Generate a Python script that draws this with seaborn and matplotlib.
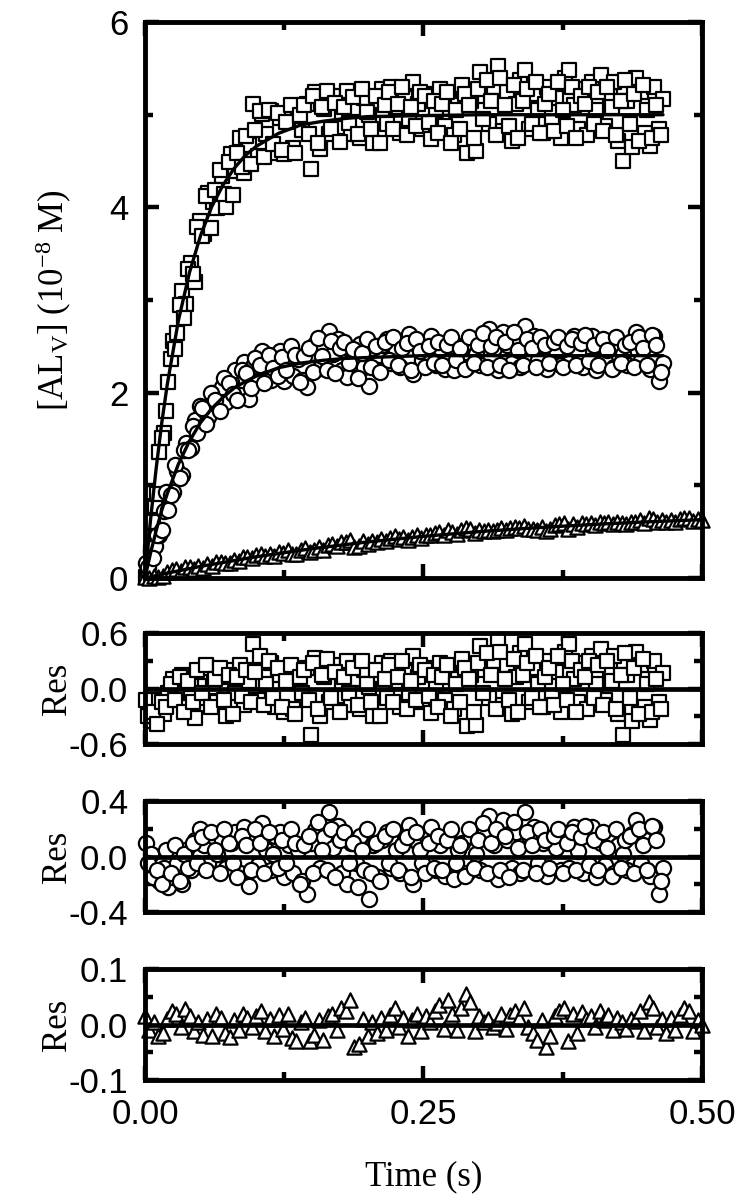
import matplotlib
matplotlib.use("Agg")
import matplotlib.pyplot as plt
import seaborn as sns
from matplotlib.ticker import FixedLocator, FormatStrFormatter

# ---------------- data ----------------
# sampling set A
t_fast = [0.001, 0.005, 0.009, 0.013, 0.017, 0.021, 0.025, 0.029, 0.033, 0.037,
          0.041, 0.045, 0.049, 0.053, 0.057, 0.061, 0.065, 0.069, 0.073, 0.077,
          0.081, 0.085, 0.089, 0.093, 0.097, 0.101, 0.105, 0.109, 0.113, 0.117,
          0.121, 0.125, 0.129, 0.133, 0.137, 0.141, 0.145, 0.149, 0.153, 0.157,
          0.161, 0.165, 0.169, 0.173, 0.177, 0.181, 0.185, 0.189, 0.193, 0.197,
          0.201, 0.205, 0.209, 0.213, 0.217, 0.221, 0.225, 0.229, 0.233, 0.237,
          0.241, 0.245, 0.249, 0.253, 0.257, 0.261, 0.265, 0.269, 0.273, 0.277,
          0.281, 0.285, 0.289, 0.293, 0.297, 0.301, 0.305, 0.309, 0.313, 0.317,
          0.321, 0.325, 0.329, 0.333, 0.337, 0.341, 0.345, 0.349, 0.353, 0.357,
          0.361, 0.365, 0.369, 0.373, 0.377, 0.381, 0.385, 0.389, 0.393, 0.397,
          0.401, 0.405, 0.409, 0.413, 0.417, 0.421, 0.425, 0.429, 0.433, 0.437,
          0.441, 0.445, 0.449, 0.453, 0.457, 0.461, 0.465]

sq_val = [0.01, 0.28, 0.78, 1.36, 1.56, 2.12, 2.56, 2.64, 3.10, 2.96, 3.40, 3.20,
          3.85, 3.71, 4.15, 4.06, 3.99, 4.34, 4.00, 4.58, 4.39, 4.75, 4.37, 4.67,
          5.12, 4.55, 5.01, 4.79, 5.04, 4.59, 4.96, 4.58, 4.95, 4.64, 5.06, 4.84,
          5.12, 4.41, 5.25, 4.63, 5.06, 4.79, 5.20, 4.87, 5.01, 5.26, 4.79, 5.07,
          4.75, 5.18, 5.00, 4.70, 5.15, 5.28, 4.90, 5.30, 5.08, 4.80, 5.18, 4.95,
          5.35, 5.12, 4.85, 5.22, 4.74, 5.05, 5.28, 4.88, 5.18, 4.78, 5.10, 5.32,
          4.59, 5.15, 4.61, 5.46, 5.20, 4.90, 5.30, 5.53, 4.82, 5.25, 4.72, 5.12,
          5.38, 5.48, 4.85, 5.22, 5.05, 4.80, 5.30, 4.92, 5.18, 4.75, 5.40, 5.48,
          5.10, 4.85, 5.28, 4.78, 5.35, 5.05, 5.43, 4.88, 5.20, 5.35, 4.72, 4.50,
          5.15, 4.65, 5.40, 5.25, 4.80, 4.66, 5.30, 4.85, 5.17]

sq_res = [-0.12, -0.35, -0.30, -0.12, -0.28, -0.05, 0.10, -0.08, 0.15, -0.20, 0.05, -0.32,
          0.18, -0.10, 0.22, 0.02, -0.15, 0.12, -0.30, 0.20, -0.05, 0.25, -0.18, 0.08,
          0.48, -0.12, 0.30, 0.05, 0.28, -0.20, 0.15, -0.25, 0.10, -0.22, 0.18, -0.05,
          0.22, -0.50, 0.33, -0.30, 0.12, -0.15, 0.25, -0.08, 0.05, 0.30, -0.18, 0.10,
          -0.22, 0.20, 0.02, -0.30, 0.15, 0.28, -0.10, 0.30, 0.08, -0.20, 0.18, -0.05,
          0.35, 0.12, -0.15, 0.22, -0.26, 0.05, 0.28, -0.12, 0.18, -0.22, 0.10, 0.32,
          -0.41, 0.15, -0.39, 0.46, 0.20, -0.10, 0.30, 0.53, -0.18, 0.25, -0.28, 0.12,
          0.38, 0.48, -0.15, 0.22, 0.05, -0.20, 0.30, -0.08, 0.18, -0.25, 0.40, 0.48,
          0.10, -0.15, 0.28, -0.22, 0.35, 0.05, 0.43, -0.12, 0.20, 0.35, -0.28, -0.50,
          0.15, -0.35, 0.40, 0.25, -0.20, -0.34, 0.30, -0.15, 0.17]

ci_val = [0.16, 0.29, 0.35, 0.46, 0.72, 0.73, 0.93, 1.15, 1.11, 1.46, 1.40, 1.71,
          1.86, 1.81, 1.74, 2.00, 1.92, 2.06, 1.90, 2.12, 2.24, 1.97, 2.33, 1.93,
          2.29, 2.13, 2.45, 2.28, 2.14, 2.41, 2.45, 2.13, 2.37, 2.18, 2.36, 2.14,
          2.06, 2.43, 2.53, 2.27, 2.49, 2.67, 2.42, 2.58, 2.25, 2.17, 2.47, 2.32,
          2.53, 2.28, 2.07, 2.48, 2.25, 2.52, 2.58, 2.32, 2.45, 2.28, 2.55, 2.63,
          2.20, 2.50, 2.35, 2.54, 2.61, 2.30, 2.48, 2.26, 2.52, 2.24, 2.45, 2.50,
          2.28, 2.55, 2.42, 2.30, 2.58, 2.69, 2.48, 2.24, 2.66, 2.52, 2.32, 2.58,
          2.28, 2.72, 2.55, 2.61, 2.35, 2.50, 2.26, 2.52, 2.46, 2.30, 2.55, 2.32,
          2.61, 2.44, 2.28, 2.58, 2.61, 2.25, 2.50, 2.34, 2.54, 2.28, 2.48, 2.42,
          2.30, 2.56, 2.66, 2.35, 2.52, 2.26, 2.61, 2.13, 2.32]

ci_res = [0.10, 0.02, -0.12, -0.18, -0.08, -0.22, -0.15, -0.05, -0.20, 0.05, -0.10, 0.12,
          0.20, 0.08, -0.05, 0.15, 0.02, 0.12, -0.08, 0.10, 0.18, -0.12, 0.21, -0.21,
          0.12, -0.06, 0.24, 0.05, -0.10, 0.15, 0.18, -0.15, 0.08, -0.12, 0.05, -0.18,
          -0.27, 0.10, 0.19, -0.08, 0.14, 0.32, 0.06, 0.22, -0.12, -0.20, 0.10, -0.05,
          0.15, -0.10, -0.31, 0.08, -0.15, 0.12, 0.18, -0.08, 0.05, -0.12, 0.15, 0.23,
          -0.20, 0.10, -0.05, 0.14, 0.21, -0.10, 0.08, -0.14, 0.12, -0.16, 0.05, 0.10,
          -0.12, 0.15, 0.02, -0.10, 0.18, 0.29, 0.08, -0.16, 0.26, 0.12, -0.08, 0.18,
          -0.12, 0.32, 0.15, 0.21, -0.05, 0.10, -0.14, 0.12, 0.06, -0.10, 0.15, -0.08,
          0.21, 0.04, -0.12, 0.18, 0.21, -0.15, 0.10, -0.06, 0.14, -0.12, 0.08, 0.02,
          -0.10, 0.16, 0.26, -0.05, 0.12, -0.14, 0.21, -0.27, -0.08]

# sampling set B (interleaved with set A)
t_fast_b = [0.003, 0.007, 0.011, 0.015, 0.019, 0.023, 0.027, 0.031, 0.035, 0.039,
            0.043, 0.047, 0.051, 0.055, 0.059, 0.063, 0.067, 0.071, 0.075, 0.079,
            0.083, 0.087, 0.091, 0.095, 0.099, 0.103, 0.107, 0.111, 0.115, 0.119,
            0.123, 0.127, 0.131, 0.135, 0.139, 0.143, 0.147, 0.151, 0.155, 0.159,
            0.163, 0.167, 0.171, 0.175, 0.179, 0.183, 0.187, 0.191, 0.195, 0.199,
            0.203, 0.207, 0.211, 0.215, 0.219, 0.223, 0.227, 0.231, 0.235, 0.239,
            0.243, 0.247, 0.251, 0.255, 0.259, 0.263, 0.267, 0.271, 0.275, 0.279,
            0.283, 0.287, 0.291, 0.295, 0.299, 0.303, 0.307, 0.311, 0.315, 0.319,
            0.323, 0.327, 0.331, 0.335, 0.339, 0.343, 0.347, 0.351, 0.355, 0.359,
            0.363, 0.367, 0.371, 0.375, 0.379, 0.383, 0.387, 0.391, 0.395, 0.399,
            0.403, 0.407, 0.411, 0.415, 0.419, 0.423, 0.427, 0.431, 0.435, 0.439,
            0.443, 0.447, 0.451, 0.455, 0.459, 0.463]

sq_val_b = [0.09, 0.61, 0.91, 1.51, 1.80, 2.36, 2.47, 2.95, 2.81, 3.33, 3.28, 3.79,
            3.69, 4.12, 3.78, 4.19, 4.40, 4.14, 4.49, 4.13, 4.59, 4.44, 4.77, 4.47,
            4.84, 5.04, 4.54, 5.05, 4.68, 5.02, 4.62, 4.92, 5.11, 4.59, 5.00, 5.10,
            4.79, 5.20, 4.70, 5.08, 5.26, 4.85, 5.13, 4.71, 5.08, 4.91, 5.19, 4.79,
            5.28, 5.03, 4.85, 5.20, 4.70, 5.10, 5.25, 4.85, 5.12, 5.30, 4.78, 5.08,
            4.88, 5.25, 5.20, 4.92, 5.15, 4.80, 5.12, 5.25, 4.70, 5.05, 4.85, 5.22,
            5.10, 4.75, 5.28, 4.95, 5.38, 5.15, 4.78, 5.40, 5.10, 4.88, 5.32, 4.75,
            5.15, 5.28, 4.90, 5.35, 4.80, 5.12, 5.22, 4.82, 5.35, 5.05, 4.88, 5.30,
            4.75, 5.20, 5.12, 5.30, 4.90, 5.25, 4.82, 5.30, 5.08, 4.78, 5.15, 5.38,
            4.90, 5.22, 4.72, 5.32, 5.05, 4.75, 5.10, 4.78]

sq_res_b = [-0.30, -0.25, -0.38, -0.15, -0.20, 0.05, -0.12, 0.12, -0.25, 0.08, -0.15, 0.20,
            -0.05, 0.25, -0.20, 0.10, 0.22, -0.12, 0.15, -0.28, 0.12, -0.08, 0.20, -0.15,
            0.18, 0.35, -0.18, 0.30, -0.10, 0.22, -0.20, 0.08, 0.25, -0.28, 0.12, 0.20,
            -0.12, 0.28, -0.22, 0.15, 0.32, -0.10, 0.18, -0.25, 0.12, -0.05, 0.22, -0.18,
            0.30, 0.05, -0.15, 0.20, -0.30, 0.10, 0.25, -0.15, 0.12, 0.30, -0.22, 0.08,
            -0.12, 0.25, 0.20, -0.08, 0.15, -0.20, 0.12, 0.25, -0.30, 0.05, -0.15, 0.22,
            0.10, -0.25, 0.28, -0.05, 0.38, 0.15, -0.22, 0.40, 0.10, -0.12, 0.32, -0.25,
            0.15, 0.28, -0.10, 0.35, -0.20, 0.12, 0.22, -0.18, 0.35, 0.05, -0.12, 0.30,
            -0.25, 0.20, 0.12, 0.30, -0.10, 0.25, -0.18, 0.30, 0.08, -0.22, 0.15, 0.38,
            -0.10, 0.22, -0.28, 0.32, 0.05, -0.25, 0.10, -0.22]

ci_val_b = [0.12, 0.22, 0.46, 0.52, 0.93, 0.90, 1.22, 1.08, 1.38, 1.38, 1.64, 1.57,
            1.83, 1.66, 2.00, 1.92, 1.80, 2.16, 2.10, 1.99, 1.92, 2.25, 2.21, 2.05,
            2.38, 2.30, 2.10, 2.41, 2.27, 2.18, 2.39, 2.24, 2.50, 2.41, 2.12, 2.40,
            2.48, 2.22, 2.59, 2.40, 2.25, 2.56, 2.21, 2.48, 2.55, 2.32, 2.47, 2.16,
            2.43, 2.58, 2.28, 2.50, 2.22, 2.55, 2.35, 2.60, 2.30, 2.48, 2.54, 2.25,
            2.58, 2.45, 2.28, 2.50, 2.32, 2.55, 2.30, 2.52, 2.60, 2.35, 2.48, 2.26,
            2.60, 2.32, 2.52, 2.64, 2.28, 2.50, 2.60, 2.30, 2.55, 2.25, 2.65, 2.46,
            2.30, 2.58, 2.48, 2.28, 2.60, 2.52, 2.32, 2.55, 2.60, 2.28, 2.50, 2.58,
            2.30, 2.54, 2.62, 2.34, 2.52, 2.30, 2.58, 2.46, 2.26, 2.60, 2.32, 2.52,
            2.55, 2.28, 2.60, 2.48, 2.30, 2.62, 2.52, 2.22]

ci_res_b = [-0.05, -0.15, -0.10, -0.20, 0.05, -0.12, 0.08, -0.18, 0.02, -0.08, 0.10, -0.05,
            0.14, -0.10, 0.18, 0.05, -0.12, 0.20, 0.10, -0.05, -0.15, 0.15, 0.08, -0.10,
            0.20, 0.10, -0.12, 0.18, 0.02, -0.08, 0.12, -0.05, 0.20, 0.10, -0.20, 0.08,
            0.15, -0.12, 0.25, 0.05, -0.10, 0.20, -0.15, 0.12, 0.18, -0.05, 0.10, -0.22,
            0.05, 0.20, -0.12, 0.10, -0.18, 0.15, -0.05, 0.20, -0.10, 0.08, 0.14, -0.15,
            0.18, 0.05, -0.12, 0.10, -0.08, 0.15, -0.10, 0.12, 0.20, -0.05, 0.08, -0.14,
            0.20, -0.08, 0.12, 0.24, -0.12, 0.10, 0.20, -0.10, 0.15, -0.15, 0.25, 0.06,
            -0.10, 0.18, 0.08, -0.12, 0.20, 0.12, -0.08, 0.15, 0.20, -0.12, 0.10, 0.18,
            -0.10, 0.14, 0.22, -0.06, 0.12, -0.10, 0.18, 0.06, -0.14, 0.20, -0.08, 0.12,
            0.15, -0.12, 0.20, 0.08, -0.10, 0.22, 0.12, -0.18]

t_slow = [0.000, 0.004, 0.008, 0.012, 0.016, 0.020, 0.024, 0.028, 0.032, 0.036,
          0.040, 0.044, 0.048, 0.052, 0.056, 0.060, 0.064, 0.068, 0.072, 0.076,
          0.080, 0.084, 0.088, 0.092, 0.096, 0.100, 0.104, 0.108, 0.112, 0.116,
          0.120, 0.124, 0.128, 0.132, 0.136, 0.140, 0.144, 0.148, 0.152, 0.156,
          0.160, 0.164, 0.168, 0.172, 0.176, 0.180, 0.184, 0.188, 0.192, 0.196,
          0.200, 0.204, 0.208, 0.212, 0.216, 0.220, 0.224, 0.228, 0.232, 0.236,
          0.240, 0.244, 0.248, 0.252, 0.256, 0.260, 0.264, 0.268, 0.272, 0.276,
          0.280, 0.284, 0.288, 0.292, 0.296, 0.300, 0.304, 0.308, 0.312, 0.316,
          0.320, 0.324, 0.328, 0.332, 0.336, 0.340, 0.344, 0.348, 0.352, 0.356,
          0.360, 0.364, 0.368, 0.372, 0.376, 0.380, 0.384, 0.388, 0.392, 0.396,
          0.400, 0.404, 0.408, 0.412, 0.416, 0.420, 0.424, 0.428, 0.432, 0.436,
          0.440, 0.444, 0.448, 0.452, 0.456, 0.460, 0.464, 0.468, 0.472, 0.476,
          0.480, 0.484, 0.488, 0.492, 0.496, 0.500]

tri_val = [0.015, 0.001, 0.026, 0.012, 0.027, 0.063, 0.088, 0.093, 0.078, 0.121,
           0.117, 0.100, 0.126, 0.112, 0.149, 0.128, 0.177, 0.177, 0.159, 0.160,
           0.199, 0.189, 0.227, 0.226, 0.217, 0.245, 0.263, 0.233, 0.262, 0.240,
           0.285, 0.266, 0.301, 0.263, 0.264, 0.306, 0.320, 0.284, 0.302, 0.335,
           0.305, 0.354, 0.365, 0.341, 0.387, 0.388, 0.413, 0.334, 0.344, 0.395,
           0.370, 0.400, 0.385, 0.417, 0.400, 0.434, 0.450, 0.420, 0.442, 0.414,
           0.447, 0.463, 0.436, 0.467, 0.462, 0.486, 0.500, 0.461, 0.518, 0.498,
           0.472, 0.515, 0.544, 0.533, 0.485, 0.516, 0.509, 0.518, 0.506, 0.517,
           0.538, 0.514, 0.543, 0.553, 0.543, 0.565, 0.533, 0.526, 0.516, 0.555,
           0.510, 0.533, 0.570, 0.583, 0.591, 0.534, 0.587, 0.554, 0.594, 0.585,
           0.592, 0.575, 0.607, 0.592, 0.605, 0.579, 0.604, 0.599, 0.588, 0.608,
           0.607, 0.628, 0.593, 0.647, 0.639, 0.606, 0.623, 0.600, 0.629, 0.609,
           0.639, 0.653, 0.650, 0.615, 0.636, 0.630]

tri_res = [0.015, -0.010, 0.005, -0.020, -0.015, 0.010, 0.025, 0.020, -0.005, 0.028,
           0.015, -0.012, 0.005, -0.018, 0.010, -0.020, 0.020, 0.012, -0.015, -0.022,
           0.008, -0.010, 0.020, 0.012, -0.005, 0.015, 0.025, -0.012, 0.010, -0.020,
           0.018, -0.008, 0.020, -0.025, -0.030, 0.005, 0.012, -0.030, -0.018, 0.008,
           -0.028, 0.015, 0.020, -0.010, 0.030, 0.025, 0.045, -0.040, -0.035, 0.010,
           -0.020, 0.005, -0.015, 0.012, -0.010, 0.018, 0.030, -0.005, 0.012, -0.020,
           0.008, 0.020, -0.012, 0.015, 0.005, 0.025, 0.035, -0.008, 0.045, 0.020,
           -0.010, 0.030, 0.055, 0.040, -0.012, 0.015, 0.005, 0.010, -0.005, 0.002,
           0.020, -0.008, 0.018, 0.025, 0.012, 0.030, -0.005, -0.015, -0.028, 0.008,
           -0.040, -0.020, 0.015, 0.025, 0.030, -0.030, 0.020, -0.015, 0.022, 0.010,
           0.015, -0.005, 0.025, 0.008, 0.018, -0.010, 0.012, 0.005, -0.008, 0.010,
           0.006, 0.025, -0.012, 0.040, 0.030, -0.005, 0.010, -0.015, 0.012, -0.010,
           0.018, 0.030, 0.025, -0.012, 0.008, 0.000]

# fitted curves
fit_t = [0.0, 0.005, 0.01, 0.015, 0.02, 0.03, 0.04, 0.05, 0.06, 0.07, 0.08, 0.09,
         0.10, 0.12, 0.14, 0.16, 0.18, 0.20, 0.25, 0.30, 0.35, 0.40, 0.465]
sq_fit = [0.0, 0.63, 1.18, 1.67, 2.09, 2.78, 3.30, 3.70, 4.01, 4.24, 4.42, 4.56,
          4.66, 4.80, 4.89, 4.93, 4.96, 4.98, 4.99, 5.00, 5.00, 5.00, 5.00]
ci_fit = [0.0, 0.27, 0.51, 0.73, 0.91, 1.23, 1.48, 1.68, 1.83, 1.95, 2.05, 2.12,
          2.18, 2.27, 2.32, 2.35, 2.37, 2.38, 2.40, 2.40, 2.40, 2.40, 2.40]
tri_fit_t = [0.0, 0.02, 0.05, 0.10, 0.15, 0.20, 0.25, 0.30, 0.35, 0.40, 0.45, 0.50]
tri_fit = [0.0, 0.053, 0.126, 0.230, 0.317, 0.390, 0.450, 0.501, 0.542, 0.577, 0.606, 0.630]

assert len(t_fast) == len(sq_val) == len(sq_res) == len(ci_val) == len(ci_res)
assert len(t_fast_b) == len(sq_val_b) == len(sq_res_b) == len(ci_val_b) == len(ci_res_b)
assert len(t_slow) == len(tri_val) == len(tri_res)

main_yticks = [0, 2, 4, 6]
res_limits = [0.6, 0.4, 0.1]
x_ticks = [0.0, 0.25, 0.5]

# ---------------- style ----------------
sns.set_theme(style="ticks")
plt.rcParams["font.family"] = ["Liberation Sans", "DejaVu Sans"]
plt.rcParams["axes.unicode_minus"] = False
plt.rcParams["mathtext.default"] = "regular"

SERIF = ["Liberation Serif", "DejaVu Serif"]
TICKSIZE = 25
LABELSIZE = 25

fig = plt.figure(figsize=(7.42, 11.99), dpi=100)
L, W = 0.1954, 0.7507
ax0 = fig.add_axes([L, 0.5179, W, 0.4637])
ax1 = fig.add_axes([L, 0.3795, W, 0.0925])
ax2 = fig.add_axes([L, 0.2394, W, 0.0925])
ax3 = fig.add_axes([L, 0.0992, W, 0.0925])


def style(ax):
    for s in ax.spines.values():
        s.set_linewidth(3.5)
        s.set_color("black")
        s.set_visible(True)
    ax.set_xlim(0, 0.5)
    ax.xaxis.set_major_locator(FixedLocator(x_ticks))
    ax.xaxis.set_minor_locator(FixedLocator([0.125, 0.375]))
    ax.tick_params(which="both", direction="in", top=True, right=True,
                   color="black", width=3.2, labelsize=TICKSIZE,
                   labelcolor="black")
    ax.tick_params(which="major", length=10)
    ax.tick_params(which="minor", length=5.5)
    ax.tick_params(axis="y", pad=12)
    ax.tick_params(axis="x", pad=13)
    ax.set_facecolor("white")


mk = dict(color="white", edgecolor="black", linewidth=1.6, clip_on=False,
          legend=False, zorder=2)
SQ, CI, TR = 115, 120, 105

# main panel
sns.scatterplot(x=t_fast + t_fast_b, y=sq_val + sq_val_b, ax=ax0, marker="s", s=SQ, **mk)
sns.scatterplot(x=t_fast + t_fast_b, y=ci_val + ci_val_b, ax=ax0, marker="o", s=CI, **mk)
sns.scatterplot(x=t_slow, y=tri_val, ax=ax0, marker="^", s=TR, **mk)
for fx, fy in ((fit_t, sq_fit), (fit_t, ci_fit), (tri_fit_t, tri_fit)):
    sns.lineplot(x=fx, y=fy, ax=ax0, color="black", linewidth=2.4,
                 estimator=None, sort=False, zorder=4)
style(ax0)
ax0.set_ylim(0, 6)
ax0.yaxis.set_major_locator(FixedLocator(main_yticks))
ax0.yaxis.set_minor_locator(FixedLocator([1, 3, 5]))
ax0.tick_params(axis="x", labelbottom=False)
ax0.set_xlabel("")
ax0.set_ylabel(r"[AL$_\mathregular{V}$] (10$^\mathregular{-8}$ M)",
               fontsize=LABELSIZE, family=SERIF, color="black")
ax0.yaxis.set_label_coords(-0.128, 0.5)

# residual panels
res_sets = [(ax1, t_fast + t_fast_b, sq_res + sq_res_b, "s", SQ),
            (ax2, t_fast + t_fast_b, ci_res + ci_res_b, "o", CI),
            (ax3, t_slow, tri_res, "^", TR)]
for (ax, tx, ry, m, sz), lim in zip(res_sets, res_limits):
    sns.scatterplot(x=tx, y=ry, ax=ax, marker=m, s=sz, **mk)
    ax.axhline(0, color="black", linewidth=3.4, zorder=4)
    style(ax)
    ax.set_ylim(-lim, lim)
    ax.yaxis.set_major_locator(FixedLocator([-lim, 0, lim]))
    ax.yaxis.set_minor_locator(FixedLocator([-lim / 2, lim / 2]))
    ax.yaxis.set_major_formatter(FormatStrFormatter("%.1f"))
    ax.set_ylabel("Res", fontsize=LABELSIZE, family=SERIF, color="black")
    ax.yaxis.set_label_coords(-0.128, 0.5)
    ax.set_xlabel("")
    if ax is not ax3:
        ax.tick_params(axis="x", labelbottom=False)

ax3.xaxis.set_major_formatter(FormatStrFormatter("%.2f"))
ax3.set_xlabel("Time (s)", fontsize=LABELSIZE, family=SERIF, color="black")
ax3.xaxis.set_label_coords(0.5, -0.72)

fig.savefig("out.png", dpi=100, facecolor="white")
